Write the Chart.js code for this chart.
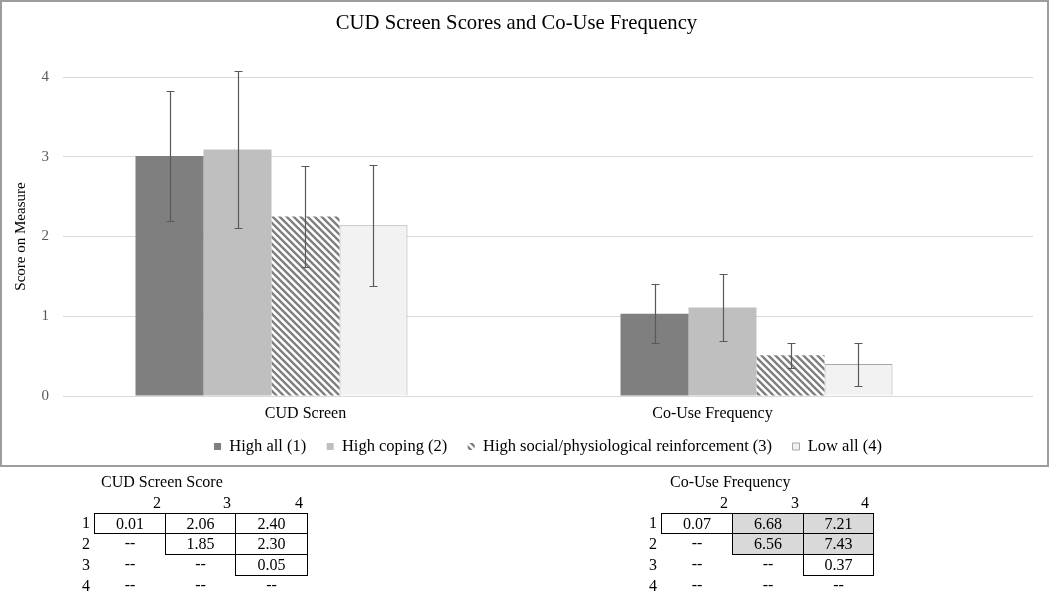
<!DOCTYPE html>
<html>
<head>
<meta charset="utf-8">
<script src="https://cdn.jsdelivr.net/npm/chart.js@4.4.1/dist/chart.umd.min.js"></script>
<style>
html,body{margin:0;padding:0;background:#fff;width:1050px;height:591px;overflow:hidden;font-family:"Liberation Serif","Times New Roman",serif;}
#wrap{position:absolute;left:0;top:0;width:1050px;height:477px;}
#frame{position:absolute;left:0;top:0;width:1049px;height:467px;border:2px solid #9d9d9d;box-sizing:border-box;pointer-events:none;}
#tables{position:absolute;left:0;top:0;}
.t{position:absolute;font-size:16px;line-height:18px;color:#000;white-space:nowrap;}
.c{position:absolute;box-sizing:border-box;font-size:16px;color:#000;text-align:center;white-space:nowrap;}
</style>
</head>
<body>
<div id="wrap"><canvas id="chart" width="1050" height="477"></canvas></div>
<div id="frame"></div>
<div id="tables"></div>
<script>
// ---- chart data ----
const categories = ['CUD Screen', 'Co-Use Frequency'];
const seriesNames = ['High all (1)', 'High coping (2)', 'High social/physiological reinforcement (3)', 'Low all (4)'];
const highAll = [3.01, 1.03];
const highCoping = [3.09, 1.11];
const highSocial = [2.25, 0.51];
const lowAll = [2.14, 0.40];
const highAllErr = [0.82, 0.37];
const highCopingErr = [0.98, 0.42];
const highSocialErr = [0.63, 0.16];
const lowAllErr = [0.76, 0.27];
const yMin = 0, yMax = 4, yStep = 1;
const chartTitle = 'CUD Screen Scores and Co-Use Frequency';
const yTitle = 'Score on Measure';

// ---- table data ----
const cudTitle = 'CUD Screen Score';
const coUseTitle = 'Co-Use Frequency';
const pairHeaders = ['2', '3', '4'];
const rowHeaders = ['1', '2', '3', '4'];
const cudPairs = [[0.01, 2.06, 2.40], [null, 1.85, 2.30], [null, null, 0.05], [null, null, null]];
const coUsePairs = [[0.07, 6.68, 7.21], [null, 6.56, 7.43], [null, null, 0.37], [null, null, null]];
const coUseShaded = [[false, true, true], [false, true, true], [false, false, false], [false, false, false]];

function stripes() {
  const s = 7;
  const c = document.createElement('canvas');
  c.width = s; c.height = s;
  const g = c.getContext('2d');
  g.fillStyle = '#ffffff'; g.fillRect(0, 0, s, s);
  g.strokeStyle = '#7f7f7f'; g.lineWidth = 2.4;
  g.beginPath();
  g.moveTo(-1, -1); g.lineTo(s + 1, s + 1);
  g.moveTo(-1, s - 1); g.lineTo(1, s + 1);
  g.moveTo(s - 1, -1); g.lineTo(s + 1, 1);
  g.stroke();
  return g.createPattern(c, 'repeat');
}

const errSets = [highAllErr, highCopingErr, highSocialErr, lowAllErr];
const errPlugin = {
  id: 'errbars',
  afterDatasetsDraw(chart) {
    const ctx = chart.ctx, y = chart.scales.y;
    ctx.save();
    ctx.strokeStyle = '#595959';
    ctx.lineWidth = 1.2;
    errSets.forEach((errs, di) => {
      const meta = chart.getDatasetMeta(di);
      meta.data.forEach((bar, i) => {
        const v = chart.data.datasets[di].data[i];
        if (v == null) return;
        const x = Math.round(bar.x) + 0.5;
        const yt = Math.round(y.getPixelForValue(v + errs[i])) + 0.5;
        const yb = Math.round(y.getPixelForValue(v - errs[i])) + 0.5;
        ctx.beginPath();
        ctx.moveTo(x, yt); ctx.lineTo(x, yb);
        ctx.moveTo(x - 4, yt); ctx.lineTo(x + 4, yt);
        ctx.moveTo(x - 4, yb); ctx.lineTo(x + 4, yb);
        ctx.stroke();
      });
    });
    ctx.restore();
  }
};

const legendFont = 16.5, legendPad = 20.4, legendRowMid = 446.5;
// move the legend row up so it sits where the reference has it
const legendShift = {
  id: 'legendShift',
  afterLayout(chart) {
    const lg = chart.legend;
    if (!lg) return;
    const target = legendRowMid - legendPad - legendFont / 2;
    const d = target - lg.top;
    lg.top += d; lg.bottom += d;
  }
};

Chart.defaults.font.family = '"Liberation Serif", "Times New Roman", serif';
Chart.defaults.color = '#000';

new Chart(document.getElementById('chart'), {
  type: 'bar',
  data: {
    labels: categories,
    datasets: [
      { label: seriesNames[0], data: highAll, backgroundColor: '#7f7f7f', borderWidth: 0 },
      { label: seriesNames[1], data: highCoping, backgroundColor: '#bfbfbf', borderWidth: 0 },
      { label: seriesNames[2], data: highSocial, backgroundColor: stripes(), borderWidth: 0 },
      { label: seriesNames[3], data: lowAll, backgroundColor: '#f2f2f2', borderColor: '#a6a6a6', borderWidth: 1 },
      { label: '', data: [null, null], backgroundColor: 'rgba(0,0,0,0)', borderWidth: 0 }
    ]
  },
  options: {
    responsive: false,
    animation: false,
    devicePixelRatio: 1,
    layout: { padding: { left: 0, right: 17, top: 0, bottom: 477 - 396 - 28 - (legendFont + legendPad + 10) } },
    datasets: { bar: { categoryPercentage: 0.701, barPercentage: 1.0 } },
    plugins: {
      tooltip: { enabled: false },
      title: {
        display: true, text: chartTitle, color: '#000',
        font: { size: 20.7, weight: 'normal' },
        padding: { top: 11.1, bottom: 41.1 }
      },
      legend: {
        display: true, position: 'bottom', fullSize: false,
        labels: {
          boxWidth: 7, boxHeight: 7, padding: legendPad, color: '#000',
          font: { size: legendFont },
          filter: (item) => item.datasetIndex < 4
        }
      }
    },
    scales: {
      x: {
        grid: { display: false, drawTicks: false },
        border: { display: false },
        ticks: {
          padding: 8.4, color: '#000', font: { size: 16 },
          callback: function(v, i) { return i === 1 ? categories[i] + ' '.repeat(39) : categories[i]; }
        },
        afterFit: (s) => { s.height = 28; }
      },
      y: {
        min: yMin, max: yMax,
        grid: { color: '#d9d9d9', drawTicks: false, lineWidth: 1 },
        border: { display: false },
        ticks: { stepSize: yStep, padding: 14, color: '#595959', font: { size: 15 } },
        title: { display: true, text: yTitle, color: '#000', font: { size: 15 }, padding: { top: 12, bottom: 0 } },
        afterFit: (s) => { s.width = 63; }
      }
    }
  },
  plugins: [errPlugin, legendShift]
});

// ---- tables ----
const rowEdges = [513, 533, 554, 575, 596];
function addDiv(cls, text, style) {
  const d = document.createElement('div');
  d.className = cls;
  d.textContent = text;
  Object.assign(d.style, style);
  document.getElementById('tables').appendChild(d);
  return d;
}
function makeTable(title, titleX, colEdges, pairs, shaded) {
  addDiv('t', title, { left: titleX + 'px', top: '473px' });
  pairHeaders.forEach((h, c) => {
    addDiv('t', h, { left: (colEdges[c]) + 'px', width: (colEdges[c + 1] - colEdges[c] - 4) + 'px', top: '494px', textAlign: 'right' });
  });
  rowHeaders.forEach((r, ri) => {
    const top = rowEdges[ri], h = rowEdges[ri + 1] - rowEdges[ri];
    addDiv('c', r, { left: (colEdges[0] - 30) + 'px', width: '26px', top: top + 'px', height: h + 'px', lineHeight: h + 'px', textAlign: 'right' });
    pairs[ri].forEach((v, ci) => {
      const x0 = colEdges[ci], x1 = colEdges[ci + 1];
      const style = { left: x0 + 'px', top: top + 'px', width: (x1 - x0 + 1) + 'px', height: (h + 1) + 'px', lineHeight: (h - 1) + 'px' };
      if (v != null) {
        style.border = '1px solid #000';
        if (shaded && shaded[ri][ci]) style.background = '#d9d9d9';
        addDiv('c', v.toFixed(2), style);
      } else {
        addDiv('c', '--', style);
      }
    });
  });
}
makeTable(cudTitle, 101, [94, 165, 235, 307], cudPairs, null);
makeTable(coUseTitle, 670, [661, 732, 803, 873], coUsePairs, coUseShaded);
</script>
</body>
</html>
